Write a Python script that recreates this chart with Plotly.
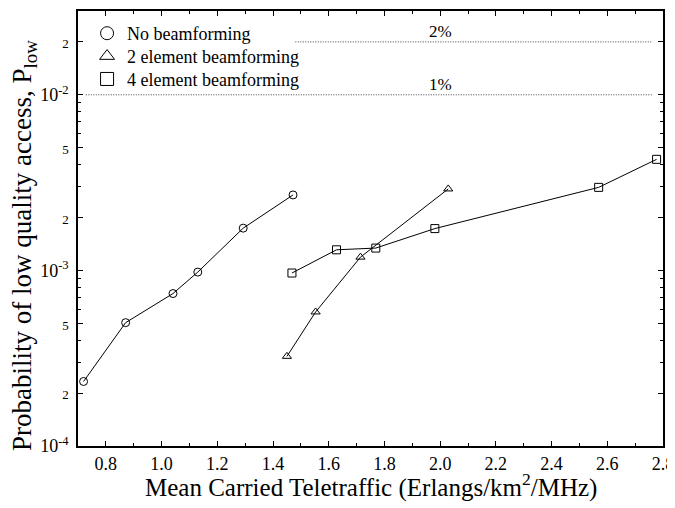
import math
import plotly.graph_objects as go

# ---- data ----
x_none = [0.72, 0.871, 1.041, 1.13, 1.293, 1.472]
y_none = [2.33e-4, 5.04e-4, 7.38e-4, 9.78e-4, 1.74e-3, 2.69e-3]

x_two = [1.45, 1.553, 1.714, 2.029]
y_two = [3.24e-4, 5.8e-4, 1.19e-3, 2.91e-3]

x_four = [1.468, 1.628, 1.769, 1.981, 2.569, 2.777]
y_four = [9.66e-4, 1.31e-3, 1.34e-3, 1.73e-3, 2.97e-3, 4.29e-3]

ref_levels = [0.02, 0.01]
ref_labels = ["2%", "1%"]
ref_x_start = [1.48, 0.728]
ref_x_end = [2.76, 2.76]
ref_label_x = 2.0

series_names = ["No beamforming", "2 element beamforming", "4 element beamforming"]
series_symbols = ["circle-open", "triangle-up-open", "square-open"]

x_tickvals = [0.8, 1.0, 1.2, 1.4, 1.6, 1.8, 2.0, 2.2, 2.4, 2.6, 2.8]
x_ticktext = ["0.8", "1.0", "1.2", "1.4", "1.6", "1.8", "2.0", "2.2", "2.4", "2.6", "2.8"]
x_minor = [0.7, 0.9, 1.1, 1.3, 1.5, 1.7, 1.9, 2.1, 2.3, 2.5, 2.7]

y_tickvals = [1e-4, 2e-4, 5e-4, 1e-3, 2e-3, 5e-3, 1e-2, 2e-2]
y_ticktext = ["10<sup>-4</sup>", "2", "5", "10<sup>-3</sup>", "2", "5", "10<sup>-2</sup>", "2"]
y_minor = [m * 10.0 ** e for e in (-4, -3, -2) for m in (3, 4, 6, 7, 8, 9)]

x_title = "Mean Carried Teletraffic (Erlangs/km<sup>2</sup>/MHz)"
y_title = "Probability of low quality access, P<sub>low</sub>"

FONT = "Liberation Serif, Times New Roman, serif"


def small(t):
    return t if t.startswith("10") else '<span style="font-size:13px">%s</span>' % t


fig = go.Figure()

# reference lines
for lvl, xs, xe in zip(ref_levels, ref_x_start, ref_x_end):
    fig.add_trace(go.Scatter(x=[xs, xe], y=[lvl, lvl], mode="lines",
                             line=dict(color="#444", width=1, dash="1px,1.5px"),
                             showlegend=False, hoverinfo="skip"))
for lvl, lab in zip(ref_levels, ref_labels):
    fig.add_annotation(x=ref_label_x, y=math.log10(lvl), text=lab, showarrow=False,
                       xref="x", yref="y", yanchor="bottom", yshift=-1,
                       font=dict(family=FONT, size=17, color="black"))

# data series
for xs, ys, sym in zip([x_none, x_two, x_four], [y_none, y_two, y_four], series_symbols):
    fig.add_trace(go.Scatter(x=xs, y=ys, mode="lines+markers",
                             line=dict(color="black", width=1),
                             marker=dict(symbol=sym, size=8, color="black",
                                         line=dict(width=1, color="black")),
                             showlegend=False))

# legend entries (markers only), one legend per entry for exact row placement
legend_ids = ["legend", "legend2", "legend3"]
legend_y = [0.9908, 0.9382, 0.8856]
for name, sym, lid in zip(series_names, series_symbols, legend_ids):
    fig.add_trace(go.Scatter(x=[None], y=[None], mode="markers", name=name, legend=lid,
                             marker=dict(symbol=sym, size=13, color="black",
                                         line=dict(width=1, color="black"))))

axis_common = dict(showline=True, linecolor="black", linewidth=1.5, mirror="allticks",
                   ticks="inside", ticklen=5, tickcolor="black", showgrid=False,
                   zeroline=False, tickfont=dict(family=FONT, size=18, color="black"))

fig.update_xaxes(range=[0.7, 2.8], tickmode="array", tickvals=x_tickvals, ticktext=x_ticktext,
                 minor=dict(tickvals=x_minor, ticks="inside", ticklen=3, tickcolor="black"),
                 ticklabelstandoff=1, **axis_common)
fig.update_yaxes(type="log", range=[-4, math.log10(0.03)], tickmode="array",
                 tickvals=y_tickvals, ticktext=[small(t) for t in y_ticktext],
                 minor=dict(tickvals=y_minor, ticks="inside", ticklen=3, tickcolor="black"),
                 ticklabelstandoff=4, **axis_common)

# axis titles as annotations for precise placement
fig.add_annotation(text=x_title, xref="paper", yref="paper", x=0.5, y=0,
                   xanchor="center", yanchor="middle", yshift=-39,
                   showarrow=False, font=dict(family=FONT, size=25, color="black"))
fig.add_annotation(text=y_title, xref="paper", yref="paper", x=0, y=0.46,
                   xanchor="center", yanchor="middle", xshift=-54, textangle=-90,
                   showarrow=False, font=dict(family=FONT, size=27, color="black"))

leg_common = dict(x=0.0155, xanchor="left", yanchor="top", bgcolor="rgba(0,0,0,0)",
                  font=dict(family=FONT, size=18, color="black"), itemsizing="trace")
fig.update_layout(width=667, height=500, margin=dict(l=70, r=12, t=1, b=62),
                  paper_bgcolor="white", plot_bgcolor="white",
                  font=dict(family=FONT, color="black"),
                  legend=dict(y=legend_y[0], **leg_common),
                  legend2=dict(y=legend_y[1], **leg_common),
                  legend3=dict(y=legend_y[2], **leg_common))

fig.write_html("out.html")
